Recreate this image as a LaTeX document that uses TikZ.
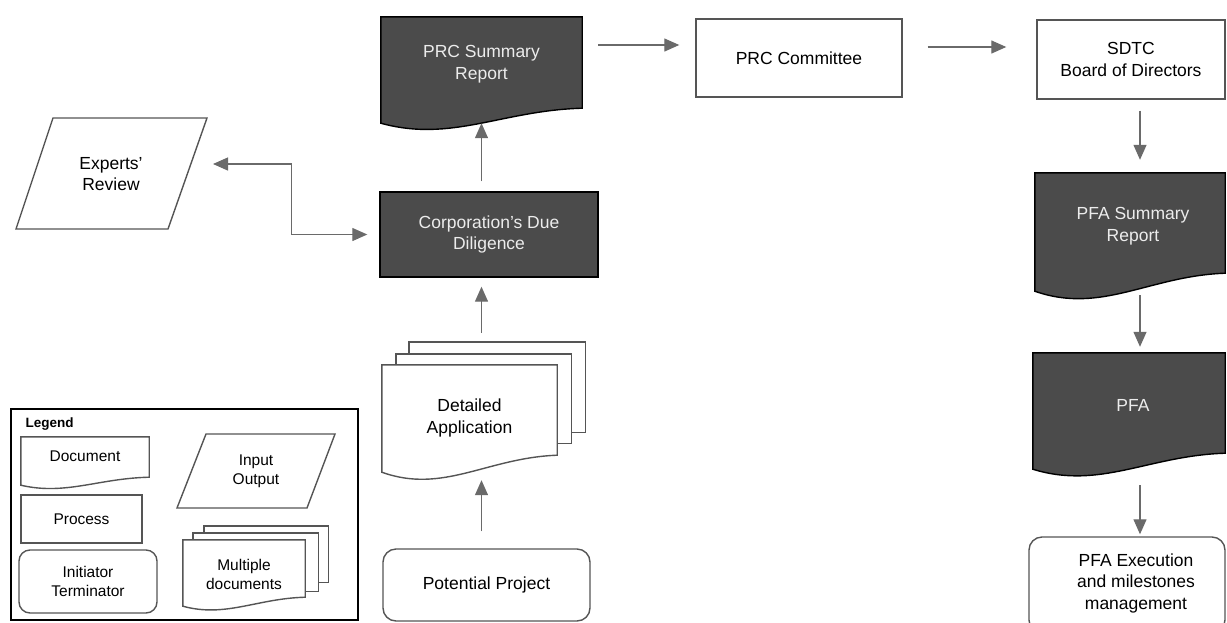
\documentclass[tikz,border=0pt]{standalone}
\usepackage{fontspec}
\setmainfont{Liberation Sans}
\usetikzlibrary{calc,arrows.meta}

\definecolor{boxdark}{HTML}{4B4B4B}
\definecolor{edge}{HTML}{555555}
\definecolor{arrowgray}{HTML}{6A6A6A}
\definecolor{lighttext}{HTML}{ECECEC}

% Wavy bottom of a flowchart "document": from the south-east corner of the
% node back to a point #2 below its south-west corner.
\newcommand\docwave[2]{%
  (#1.south east)
  .. controls ($(#1.south west)!0.6!(#1.south east)+(0,-0.15*#2)$)
          and ($(#1.south west)!0.35!(#1.south east)+(0,-2.3*#2)$)
  .. ($(#1.south west)+(0,-#2)$)}

\newcommand\docshape[3]{% node name, wave depth, path style
  \path[#3] (#1.north west) -- (#1.north east) -- \docwave{#1}{#2} -- cycle;}

\tikzset{
  x=1pt, y=1pt,
  txt/.style={font=\fontsize{17.5}{21.5}\selectfont, align=center, text=black},
  lgd/.style={font=\fontsize{15.5}{19}\selectfont, align=center, text=black},
  area/.style={draw=none, inner sep=0pt},
  darkdoc/.style={fill=boxdark, draw=black, line width=1.4pt},
  whitedoc/.style={fill=white, draw=edge, line width=1.4pt},
  procbox/.style={rectangle, draw=edge, line width=1.4pt, inner sep=0pt},
  darkproc/.style={rectangle, fill=boxdark, draw=black, line width=1.4pt, inner sep=0pt},
  termbox/.style={rectangle, rounded corners=13pt, draw=edge, line width=1.4pt, inner sep=0pt},
  io/.style={draw=edge, line width=1.4pt},
  arr/.style={draw=arrowgray, line width=1.3pt,
    -{Triangle[length=15pt, width=13pt]}},
  darr/.style={draw=arrowgray, line width=1.3pt,
    {Triangle[length=15pt, width=13pt]}-{Triangle[length=15pt, width=13pt]}},
}

\begin{document}
\begin{tikzpicture}
\useasboundingbox (0,0) rectangle (1227,-622);
\clip (0,0) rectangle (1227,-622);

% ---------- main flow ----------
% PRC summary report (dark document)
\node[area, minimum width=201, minimum height=91] (prc) at (481.5,-62.5) {};
\docshape{prc}{15}{darkdoc}
\node[txt, text=lighttext] at (481.5,-64) {PRC Summary\\Report};

% Corporation's due diligence (dark process)
\node[darkproc, minimum width=218, minimum height=85, txt, text=lighttext]
  (cdd) at (489,-234.5) {Corporation's Due\\Diligence};

% Experts' review (input / output)
\draw[io] (53,-118) -- (207,-118) -- (168,-229) -- (16,-229) -- cycle;
\node[txt] (exp) at (111,-174) {Experts'\\Review};
\coordinate (expport) at (213,-164);

% Detailed application (multiple documents)
\node[area, minimum width=176, minimum height=90] (da3) at (497,-387) {};
\node[area, minimum width=175, minimum height=89] (da2) at (483.5,-398.5) {};
\node[area, minimum width=175, minimum height=90] (da) at (469.5,-410) {};
\path[whitedoc] (da3.north west) rectangle (da3.south east);
\path[whitedoc] (da2.north west) rectangle (da2.south east);
\docshape{da}{17}{whitedoc}
\node[txt] at (469.5,-418) {Detailed\\Application};

% Potential project (terminator)
\node[termbox, minimum width=207, minimum height=72, txt]
  (pp) at (486.5,-585) {Potential Project};

% PRC committee
\node[procbox, minimum width=206, minimum height=78, txt]
  (com) at (799,-58) {PRC Committee};

% SDTC board of directors
\node[procbox, minimum width=188, minimum height=79, txt]
  (sdtc) at (1131,-59.5) {SDTC\\Board of Directors};

% PFA summary report (dark document)
\node[area, minimum width=190, minimum height=100] (pfas) at (1130,-223) {};
\docshape{pfas}{18}{darkdoc}
\node[txt, text=lighttext] at (1133,-226) {PFA Summary\\Report};

% PFA (dark document)
\node[area, minimum width=192, minimum height=100] (pfa) at (1129,-403) {};
\docshape{pfa}{16}{darkdoc}
\node[txt, text=lighttext] at (1133,-405) {PFA};

% PFA execution (terminator, runs past the bottom edge)
\node[termbox, minimum width=196, minimum height=96] (exe) at (1127,-585) {};
\node[txt] at (1136,-583) {PFA Execution\\and milestones\\management};

% ---------- connectors ----------
\draw[arr, shorten <=10pt] (cdd.north -| prc.south) -- ([yshift=-15pt]prc.south);
\draw[arr, shorten <=9pt, shorten >=9pt] (da3.north -| prc.south) -- (cdd.south -| prc.south);
\draw[arr, shorten <=17pt, shorten >=3pt] (pp.north -| prc.south) -- ([yshift=-22pt]da.south -| prc.south);
\draw[darr, shorten >=12pt] (expport) -| ($(expport)!0.47!(cdd.west)$) |- (cdd.west);
\draw[arr, shorten <=16pt, shorten >=16pt] (prc.east |- 0,-45) -- (com.west |- 0,-45);
\draw[arr, shorten <=25pt, shorten >=30pt] (com.east |- 0,-47) -- (sdtc.west |- 0,-47);
\draw[arr, shorten <=11pt, shorten >=13pt] (sdtc.south -| 1140,0) -- (pfas.north -| 1140,0);
\draw[arr, shorten <=22pt, shorten >=6pt] (pfas.south -| 1140,0) -- (pfa.north -| 1140,0);
\draw[arr, shorten <=32pt, shorten >=2pt] (pfa.south -| 1140,0) -- (exe.north -| 1140,0);

% ---------- legend ----------
\node[draw=black, line width=1.8pt, minimum width=347, minimum height=211, inner sep=0pt]
  (legend) at (184.5,-514.5) {};
\node[anchor=west, font=\bfseries\fontsize{13.5}{16}\selectfont] (lgdtitle) at (22,-424) {Legend};

\node[area, minimum width=128, minimum height=40] (ldoc) at (85,-457) {};
\docshape{ldoc}{8}{whitedoc}
\node[lgd] at (85,-456) {Document};

\node[procbox, minimum width=121, minimum height=48, lgd] (lproc) at (81.5,-519) {Process};
\node[termbox, rounded corners=11pt, minimum width=138, minimum height=63, lgd]
  (lterm) at (88,-581.5) {Initiator\\Terminator};

\draw[io] (206,-434) -- (335,-434) -- (307,-508) -- (177,-508) -- cycle;
\node[lgd] (lio) at (256,-471) {Input\\Output};

\node[area, minimum width=124, minimum height=56] (lmd3) at (266,-554) {};
\node[area, minimum width=125, minimum height=58] (lmd2) at (255.5,-562) {};
\node[area, minimum width=122, minimum height=57] (lmd) at (244,-568.5) {};
\path[whitedoc] (lmd3.north west) rectangle (lmd3.south east);
\path[whitedoc] (lmd2.north west) rectangle (lmd2.south east);
\docshape{lmd}{9}{whitedoc}
\node[lgd] at (244,-574) {Multiple\\documents};
\end{tikzpicture}
\end{document}
